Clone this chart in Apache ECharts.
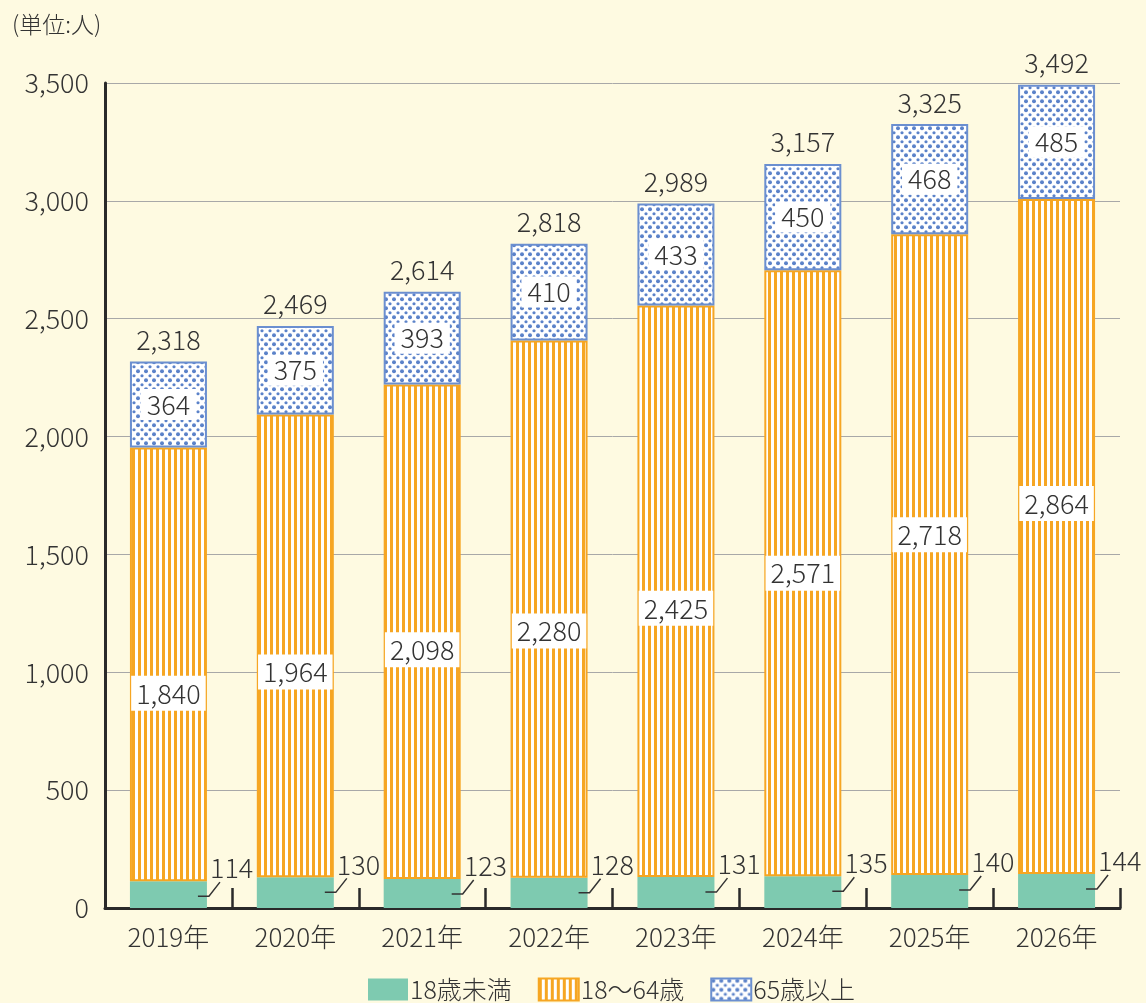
<!DOCTYPE html>
<html>
<head>
<meta charset="utf-8">
<script src="https://cdn.jsdelivr.net/npm/echarts@6/dist/echarts.min.js"></script>
<style>
  html, body { margin: 0; padding: 0; background: #fefae1; }
  #chart { width: 1146px; height: 1003px; }
</style>
</head>
<body>
<div id="chart"></div>
<script>
// 年度
var years = ['2019年', '2020年', '2021年', '2022年', '2023年', '2024年', '2025年', '2026年'];
// 各年齢層の人数
var under18 = [114, 130, 123, 128, 131, 135, 140, 144];
var age18to64 = [1840, 1964, 2098, 2280, 2425, 2571, 2718, 2864];
var over65 = [364, 375, 393, 410, 433, 450, 468, 485];
// 合計（図に書かれている値）
var totals = [2318, 2469, 2614, 2818, 2989, 3157, 3325, 3492];
var yTicks = [0, 500, 1000, 1500, 2000, 2500, 3000, 3500];

// 18〜64歳ラベルの上下ずらし（px）
var midLabelDy = [29, 26, 18, 22, 17, 0, -20, -33];

var FONT = '"Noto Sans CJK JP", "Noto Sans", sans-serif';
var TXT = '#333333';
var ORANGE = '#f6a623';
var BLUE = '#5b82c9';
var TEAL = '#7ecab0';
var BAR_W = 77;
var NUM_SIZE = 27;

function fmt(v) {
    return Number(v).toLocaleString('en-US');
}

// 縦じま
function stripePattern() {
    var c = document.createElement('canvas');
    c.width = 6; c.height = 6;
    var ctx = c.getContext('2d');
    ctx.fillStyle = '#ffffff';
    ctx.fillRect(0, 0, 6, 6);
    ctx.fillStyle = ORANGE;
    ctx.fillRect(0, 0, 3, 6);
    return c;
}
// ドット
function dotPattern() {
    var c = document.createElement('canvas');
    c.width = 8; c.height = 9;
    var ctx = c.getContext('2d');
    ctx.fillStyle = '#ffffff';
    ctx.fillRect(0, 0, 8, 9);
    ctx.fillStyle = BLUE;
    ctx.beginPath(); ctx.arc(2, 2.25, 2.0, 0, Math.PI * 2); ctx.fill();
    ctx.beginPath(); ctx.arc(6, 6.75, 1.6, 0, Math.PI * 2); ctx.fill();
    return c;
}

var chart = echarts.init(document.getElementById('chart'));

var midData = age18to64.map(function (v, i) {
    return { value: v, label: { offset: [0, midLabelDy[i]] } };
});

var option = {
    backgroundColor: '#fefae1',
    textStyle: { fontFamily: FONT },
    animation: false,
    title: {
        text: '(単位:人)',
        left: 7,
        top: 8,
        textStyle: { fontFamily: FONT, fontSize: 23, fontWeight: 300, color: TXT }
    },
    legend: {
        data: ['18歳未満', '18〜64歳', '65歳以上'],
        left: 363,
        top: 972,
        icon: 'rect',
        itemWidth: 40,
        itemHeight: 22,
        itemGap: 26,
        textStyle: { fontFamily: FONT, fontSize: 25, fontWeight: 300, color: TXT, padding: [0, 0, 0, -3] }
    },
    grid: { left: 105, right: 26, top: 83, bottom: 95 },
    xAxis: {
        type: 'category',
        data: years,
        axisLine: { lineStyle: { color: '#2a2a2a', width: 3 } },
        axisTick: { show: true, inside: true, length: 20, lineStyle: { color: '#2a2a2a', width: 2.5 } },
        axisLabel: { fontFamily: FONT, fontSize: 26, fontWeight: 300, color: TXT, margin: 16 }
    },
    yAxis: {
        type: 'value',
        min: yTicks[0],
        max: yTicks[yTicks.length - 1],
        interval: 500,
        axisLine: { show: true, lineStyle: { color: '#2a2a2a', width: 3 } },
        axisTick: { show: false },
        splitLine: { lineStyle: { color: '#a8a8a8', width: 1 } },
        axisLabel: { fontFamily: FONT, fontSize: NUM_SIZE, fontWeight: 300, color: TXT, margin: 16, formatter: fmt }
    },
    series: [{
        name: '18歳未満',
        type: 'bar',
        stack: 'all',
        barWidth: BAR_W,
        itemStyle: { color: TEAL },
        data: under18
    }, {
        name: '18〜64歳',
        type: 'bar',
        stack: 'all',
        barWidth: BAR_W,
        itemStyle: {
            color: { image: stripePattern(), repeat: 'repeat' },
            borderColor: ORANGE,
            borderWidth: 2
        },
        label: {
            show: true,
            position: 'inside',
            fontFamily: FONT,
            fontSize: NUM_SIZE,
            fontWeight: 300,
            color: TXT,
            backgroundColor: '#ffffff',
            padding: [4, 5],
            formatter: function (p) { return fmt(p.value); }
        },
        data: midData
    }, {
        name: '65歳以上',
        type: 'bar',
        stack: 'all',
        barWidth: BAR_W,
        itemStyle: {
            color: { image: dotPattern(), repeat: 'repeat' },
            borderColor: '#6b8fd0',
            borderWidth: 2
        },
        label: {
            show: true,
            position: 'inside',
            fontFamily: FONT,
            fontSize: NUM_SIZE,
            fontWeight: 300,
            color: TXT,
            backgroundColor: '#ffffff',
            padding: [2, 6],
            formatter: function (p) { return fmt(p.value); }
        },
        data: over65
    }, {
        // 18歳未満の引き出し線と数値
        name: 'under18Label',
        type: 'custom',
        z: 10,
        data: under18.map(function (v, i) { return [i, v]; }),
        renderItem: function (params, api) {
            var pt = api.coord([api.value(0), api.value(1)]);
            var x = pt[0] + BAR_W / 2, y = pt[1];
            return {
                type: 'group',
                children: [{
                    type: 'polyline',
                    shape: { points: [[x - 9, y + 15], [x + 2, y + 15], [x + 13, y + 1]] },
                    style: { stroke: '#333', lineWidth: 1.5, fill: null }
                }, {
                    type: 'text',
                    x: x + 3,
                    y: y - 13,
                    style: {
                        text: fmt(api.value(1)),
                        font: '300 ' + NUM_SIZE + 'px ' + FONT,
                        fill: TXT,
                        textAlign: 'left',
                        textVerticalAlign: 'middle'
                    }
                }]
            };
        }
    }, {
        // 合計
        name: 'totalLabel',
        type: 'custom',
        z: 10,
        data: totals.map(function (v, i) { return [i, v]; }),
        renderItem: function (params, api) {
            var pt = api.coord([api.value(0), api.value(1)]);
            return {
                type: 'text',
                x: pt[0],
                y: pt[1] - 22,
                style: {
                    text: fmt(api.value(1)),
                    font: '300 ' + NUM_SIZE + 'px ' + FONT,
                    fill: TXT,
                    textAlign: 'center',
                    textVerticalAlign: 'middle'
                }
            };
        }
    }]
};

chart.setOption(option);
</script>
</body>
</html>
